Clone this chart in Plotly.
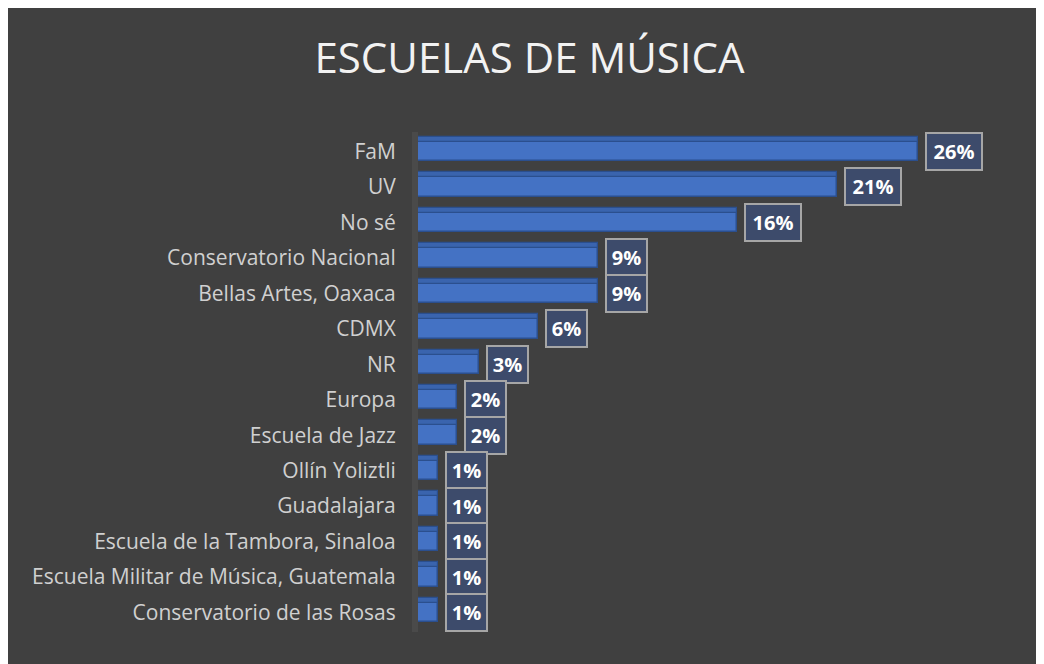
import plotly.graph_objects as go

# Data (percent of 98 respondents)
categories = [
    "FaM", "UV", "No sé", "Conservatorio Nacional", "Bellas Artes, Oaxaca",
    "CDMX", "NR", "Europa", "Escuela de Jazz", "Ollín Yoliztli", "Guadalajara",
    "Escuela de la Tambora, Sinaloa", "Escuela Militar de Música, Guatemala",
    "Conservatorio de las Rosas",
]
values = [25.5, 21.4, 16.3, 9.2, 9.2, 6.1, 3.1, 2.0, 2.0, 1.0, 1.0, 1.0, 1.0, 1.0]
labels = [f"{round(v):.0f}%" for v in values]

BG = "#404040"
FRONT = "#4472C4"
TOP = "#3A64AE"
EDGE = "#2B4F8E"

fig = go.Figure()
# front face
fig.add_trace(go.Bar(
    y=categories, x=values, orientation="h", width=0.55, offset=-0.275,
    marker=dict(color=FRONT, line=dict(color=EDGE, width=1.5)),
    hoverinfo="skip", showlegend=False,
))
# top face (3D effect)
fig.add_trace(go.Bar(
    y=categories, x=values, orientation="h", width=0.14, offset=-0.415,
    marker=dict(color=TOP, line=dict(color=EDGE, width=1.2)),
    hoverinfo="skip", showlegend=False,
))

for c, v, t in zip(categories, values, labels):
    fig.add_annotation(
        x=v, y=c, xref="x", yref="y", text=f"<b>{t}</b>", showarrow=False,
        xanchor="left", yanchor="middle", xshift=7,
        width=15 * len(t) + 1, align="center",
        font=dict(family="Open Sans", size=20, color="white"),
        bgcolor="#3D4B6B", bordercolor="#A6A6A6", borderwidth=2, borderpad=4,
    )

fig.update_layout(
    width=1036, height=656,
    margin=dict(l=410, r=38, t=124, b=32),
    paper_bgcolor=BG, plot_bgcolor=BG,
    bargap=0,
    title=dict(text="ESCUELAS DE MÚSICA", x=0.5034, xref="container",
               y=0.9238, yanchor="middle", xanchor="center",
               font=dict(family="Open Sans", size=42, color="#F2F2F2")),
    font=dict(family="Open Sans"),
)
fig.update_xaxes(range=[0, 30], visible=False, showgrid=False, zeroline=False)
fig.update_yaxes(
    categoryorder="array", categoryarray=categories, autorange="reversed",
    showgrid=False, zeroline=False, ticks="", ticklabelstandoff=12,
    tickfont=dict(family="Open Sans", size=21, color="#D0D0D0"),
    showline=True, linecolor="#4A4A4A", linewidth=6, layer="below traces",
)

fig.write_html("out.html")
